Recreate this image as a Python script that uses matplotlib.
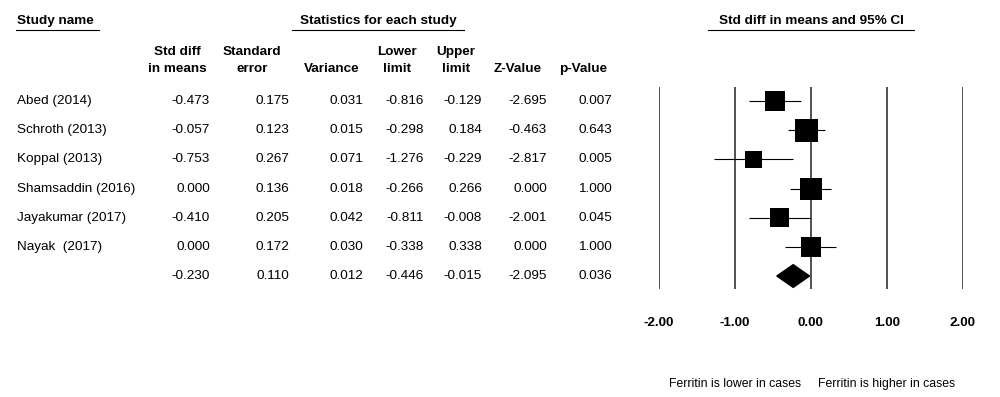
"""Forest plot: ferritin, std diff in means (cases vs controls)."""
import matplotlib.pyplot as plt
import numpy as np
from matplotlib.lines import Line2D
from matplotlib.patches import Polygon
from matplotlib.transforms import blended_transform_factory

plt.rcParams["font.family"] = ["Liberation Sans", "DejaVu Sans"]
plt.rcParams["font.size"] = 9.7

studies = [
    "Abed (2014)", "Schroth (2013)", "Koppal (2013)",
    "Shamsaddin (2016)", "Jayakumar (2017)", "Nayak  (2017)",
]
std_diff = [-0.473, -0.057, -0.753, 0.000, -0.410, 0.000]
std_err = [0.175, 0.123, 0.267, 0.136, 0.205, 0.172]
variance = [0.031, 0.015, 0.071, 0.018, 0.042, 0.030]
lower = [-0.816, -0.298, -1.276, -0.266, -0.811, -0.338]
upper = [-0.129, 0.184, -0.229, 0.266, -0.008, 0.338]
z_value = [-2.695, -0.463, -2.817, 0.000, -2.001, 0.000]
p_value = [0.007, 0.643, 0.005, 1.000, 0.045, 1.000]

# pooled row, same column order as the table
pooled = [-0.230, 0.110, 0.012, -0.446, -0.015, -2.095, 0.036]

header_top = ["Std diff", "Standard", "", "Lower", "Upper", "", ""]
header_bottom = ["in means", "error", "Variance", "limit", "limit",
                 "Z-Value", "p-Value"]

xticks = [-2, -1, 0, 1, 2]
tick_labels = ["-2.00", "-1.00", "0.00", "1.00", "2.00"]
favours = ["Ferritin is lower in cases", "Ferritin is higher in cases"]

W, H = 1000, 397


def fy(y_px):
    return 1 - y_px / H


fig = plt.figure(figsize=(10, 3.97), dpi=100)

# forest panel
ax = fig.add_axes([658.7 / W, fy(289), 304 / W, 202 / H])
ax.set_xlim(-2, 2)
ax.set_ylim(6.445, -0.48)
ax.patch.set_visible(False)
for s in ax.spines.values():
    s.set_visible(False)
for xv in xticks:
    ax.axvline(xv, color="#333333", lw=1.2, zorder=1)
ax.set_xticks(xticks, tick_labels, fontweight="bold")
ax.tick_params(axis="x", length=0, pad=20)
ax.set_yticks([])

rows = np.arange(len(studies))
ax.hlines(rows, lower, upper, color="black", lw=0.8, zorder=2)
weights = 1 / np.array(variance)
side_px = 17 + 1.35 * (np.sqrt(weights) - np.sqrt(weights.min()))
ax.scatter(std_diff, rows, marker="s", s=(side_px * 0.72) ** 2,
           color="black", linewidths=0, zorder=3)

r = len(studies)
ax.add_patch(Polygon(
    [(pooled[3], r), (pooled[0], r - 0.39), (pooled[4], r), (pooled[0], r + 0.39)],
    closed=True, color="black", zorder=3,
))

# table
row_tr = blended_transform_factory(fig.transFigure, ax.transData)
for i, name in enumerate(studies):
    ax.text(17 / W, i, name, transform=row_tr, ha="left", va="center")

columns = [std_diff, std_err, variance, lower, upper, z_value, p_value]
col_right = [210, 289, 363, 424, 482, 547, 612]
col_center = [177, 252, 332, 397, 456, 518, 583]
for j, vals in enumerate(columns):
    for i, v in enumerate(list(vals) + [pooled[j]]):
        ax.text(col_right[j] / W, i, f"{v:.3f}", transform=row_tr,
                ha="right", va="center")
    fig.text(col_center[j] / W, fy(51.7), header_top[j],
             ha="center", va="center", fontweight="bold")
    fig.text(col_center[j] / W, fy(69), header_bottom[j],
             ha="center", va="center", fontweight="bold")

for label, x0, x1, ha in [
    ("Study name", 16, 99, "left"),
    ("Statistics for each study", 292, 464, "center"),
    ("Std diff in means and 95% CI", 708, 914, "center"),
]:
    xt = x0 + 1 if ha == "left" else (x0 + x1) / 2
    fig.text(xt / W, fy(20.7), label, ha=ha, va="center", fontweight="bold")
    fig.add_artist(Line2D([x0 / W, x1 / W], [fy(30), fy(30)],
                          transform=fig.transFigure, color="black", lw=0.8))

foot_tr = blended_transform_factory(ax.transData, fig.transFigure)
for xv, label in zip([-1, 1], favours):
    ax.text(xv, fy(384), label, transform=foot_tr,
            ha="center", va="center", fontsize=8.8)

fig.savefig("out.png", dpi=100)
